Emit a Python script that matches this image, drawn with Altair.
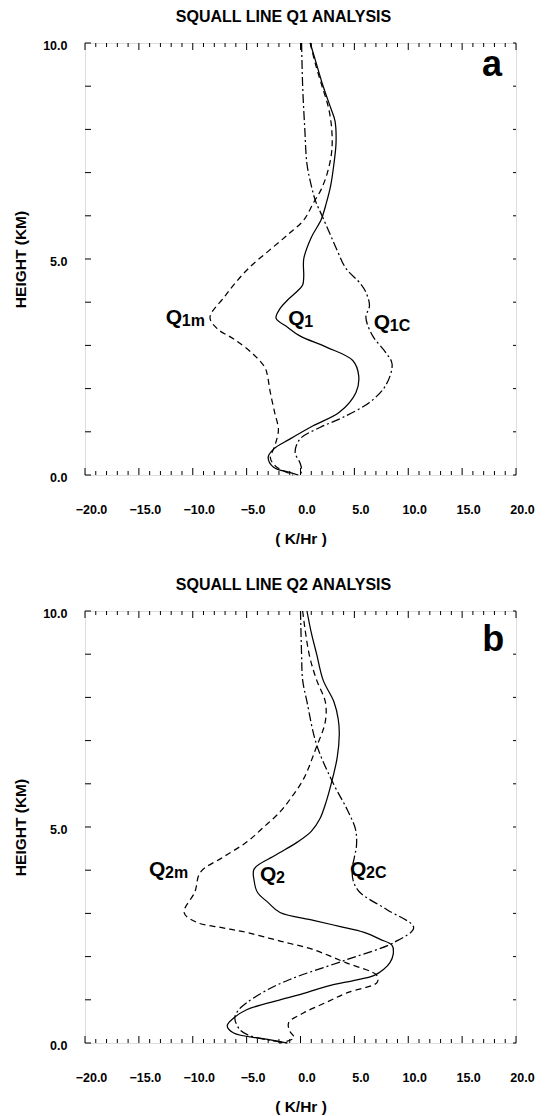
import altair as alt
import pandas as pd

# ---------------- Panel a : Q1 budget (height km, K/Hr) ----------------
q1_h = [10.0, 9.5, 9.0, 8.5, 8.2, 7.7, 7.2, 6.7, 6.3, 5.9, 5.5, 5.0, 4.6, 4.4, 4.23, 4.05, 3.85, 3.63,
        3.42, 3.22, 2.96, 2.65, 2.3, 1.91, 1.45, 1.14, 0.83, 0.6, 0.41, 0.18, 0.06, 0.0]
q1_v = [0.9, 1.5, 2.1, 2.8, 3.2, 3.3, 3.1, 2.8, 2.4, 1.9, 1.0, 0.3, 0.3, 0.2, -0.4, -1.2, -1.9, -2.27,
        -1.2, -0.06, 2.4, 4.85, 5.4, 5.15, 3.6, 1.17, -1.0, -2.5, -3.0, -2.5, -1.0, -0.2]

q1m_h = [10.0, 9.5, 9.0, 8.5, 8.0, 7.5, 7.0, 6.6, 6.3, 5.9, 5.58, 5.2, 4.79, 4.4, 4.11, 3.65, 3.38,
         3.15, 2.8, 2.49, 2.34, 1.91, 1.45, 1.06, 0.83, 0.6, 0.4, 0.2, 0.0]
q1m_v = [0.9, 1.4, 2.0, 2.6, 2.9, 2.9, 2.5, 1.9, 1.2, 0.3, -1.1, -2.9, -4.8, -6.2, -7.1, -8.4, -7.7,
         -6.2, -4.4, -3.3, -3.1, -2.8, -2.4, -2.05, -2.2, -2.5, -2.8, -2.3, -0.7]

q1c_h = [10.0, 9.0, 8.0, 7.2, 6.7, 6.34, 6.0, 5.6, 5.2, 4.79, 4.42, 4.23, 3.92, 3.65, 3.22, 2.84,
         2.57, 2.07, 1.68, 1.33, 1.1, 0.83, 0.52, 0.29, 0.14, 0.0]
q1c_v = [0.1, 0.2, 0.4, 0.6, 1.0, 1.4, 2.0, 2.7, 3.4, 4.2, 5.6, 6.07, 6.4, 6.07, 6.7, 7.9,
         8.5, 7.9, 6.4, 3.9, 1.8, -0.06, -0.5, -0.06, 0.1, 0.0]

# ---------------- Panel b : Q2 budget ----------------
q2_h = [10.0, 9.5, 9.0, 8.4, 7.9, 7.5, 7.14, 6.6, 6.05, 5.6, 5.19, 4.9, 4.65, 4.35, 4.03, 3.75, 3.49,
        3.25, 3.02, 2.84, 2.7, 2.56, 2.4, 2.26, 2.05, 1.86, 1.7, 1.56, 1.45, 1.33, 1.15, 1.0, 0.77,
        0.58, 0.4, 0.23, 0.1, 0.0]
q2_v = [0.6, 1.0, 1.5, 2.1, 3.1, 3.5, 3.6, 3.4, 2.9, 2.4, 1.8, 1.0, -0.3, -2.3, -4.3, -4.3, -4.0,
        -3.0, -1.9, 1.2, 3.6, 5.9, 7.4, 8.5, 8.6, 8.3, 7.7, 6.8, 5.0, 2.7, 0.3, -1.9, -5.0,
        -6.2, -6.8, -6.2, -3.5, -1.2]

q2m_h = [10.0, 9.0, 8.4, 7.9, 7.44, 6.8, 6.12, 5.7, 5.35, 5.0, 4.65, 4.3, 3.95, 3.5, 3.02, 2.79,
         2.67, 2.56, 2.36, 2.16, 1.86, 1.56, 1.40, 1.16, 0.93, 0.70, 0.47, 0.28, 0.12, 0.0]
q2m_v = [0.2, 0.8, 1.5, 2.3, 2.3, 1.4, 0.3, -0.8, -1.9, -3.4, -5.0, -7.2, -9.3, -9.8, -10.8, -9.6,
         -7.3, -5.0, -1.9, 1.2, 4.2, 7.1, 7.1, 4.3, 2.3, 0.3, -1.1, -1.0, -0.6, -2.0]

q2c_h = [10.0, 9.0, 8.4, 7.9, 6.9, 5.98, 5.42, 4.95, 4.58, 4.3, 4.03, 3.75, 3.49, 3.09, 2.67, 2.33,
         1.93, 1.47, 1.2, 0.93, 0.75, 0.58, 0.3, 0.16, 0.05, 0.0]
q2c_v = [0.0, 0.1, 0.2, 0.6, 1.5, 3.1, 4.3, 5.1, 5.2, 5.0, 4.8, 4.9, 5.5, 8.0, 10.5, 8.7,
         4.3, -1.0, -3.3, -5.0, -5.8, -6.1, -5.6, -4.6, -2.5, -1.2]

# ---------------- curve labels ----------------
a_lab_text = ["Q", "Q", "Q"]
a_lab_sub = ["1m", "1", "1C"]
a_lab_x = [-12.5, -1.13, 6.8]
a_lab_y = [3.63, 3.61, 3.53]

b_lab_text = ["Q", "Q", "Q"]
b_lab_sub = ["2m", "2", "2C"]
b_lab_x = [-14.05, -3.75, 4.6]
b_lab_y = [4.0, 3.88, 4.0]

titles = ["SQUALL LINE Q1 ANALYSIS", "SQUALL LINE Q2 ANALYSIS"]
letters = ["a", "b"]
letter_x = [18.7, 18.9]
letter_y = [9.24, 9.07]

x_tick_vals = list(range(-20, 21))
y_tick_vals = list(range(0, 11))
x_label_vals = [-20, -15, -10, -5, 0, 5, 10, 15, 20]
y_label_vals = [0, 5, 10]

FONT = "Liberation Sans"
W, H = 431, 432

xs = alt.Scale(domain=[-20, 20], nice=False, zero=False)
ys = alt.Scale(domain=[0, 10], nice=False, zero=False)

x_axis = alt.Axis(values=x_label_vals, format=".1f", labelFont=FONT, labelFontWeight="bold",
                  labelFontSize=12.5, labelColor="black", ticks=False, tickSize=0, domain=False,
                  grid=False, labelPadding=28, labelOffset=6, labelFlush=False,
                  title="( K/Hr )", titleFont=FONT,
                  titleFontSize=15.5, titleFontWeight="bold", titleColor="black", titlePadding=16)
y_axis = alt.Axis(values=y_label_vals, format=".1f", labelFont=FONT, labelFontWeight="bold",
                  labelFontSize=12.5, labelColor="black", ticks=False, tickSize=0, domain=False,
                  grid=False, labelPadding=18, labelOffset=2, labelFlush=False,
                  title="HEIGHT (KM)", titleFont=FONT,
                  titleFontSize=15.5, titleFontWeight="bold", titleColor="black", titlePadding=14)


def XE(field):
    return alt.X(field, scale=xs, axis=x_axis)


def YE(field):
    return alt.Y(field, scale=ys, axis=y_axis)


def sdf(h, v):
    return pd.DataFrame({"h": h, "v": v, "i": list(range(len(h)))})


def line_layer(h, v, dash=None):
    kw = dict(color="black", strokeWidth=1.25, interpolate="catmull-rom")
    if dash is not None:
        kw["strokeDash"] = dash
    return alt.Chart(sdf(h, v)).mark_line(**kw).encode(x=XE("v:Q"), y=YE("h:Q"), order="i:Q")


def tick_layers():
    xdf = pd.DataFrame({"v": x_tick_vals, "major": [t % 5 == 0 for t in x_tick_vals]})
    ydf = pd.DataFrame({"h": y_tick_vals})
    xmaj = xdf[xdf.major]
    xmin = xdf[~xdf.major]
    layers = []
    for d, ln in ((xmaj, 7), (xmin, 4)):
        layers.append(alt.Chart(d).mark_rule(color="black", strokeWidth=1).encode(
            x=XE("v:Q"), y=alt.value(H), y2=alt.value(H - ln)))
        layers.append(alt.Chart(d).mark_rule(color="black", strokeWidth=1).encode(
            x=XE("v:Q"), y=alt.value(0), y2=alt.value(ln)))
    layers.append(alt.Chart(ydf).mark_rule(color="black", strokeWidth=1).encode(
        y=YE("h:Q"), x=alt.value(0), x2=alt.value(6)))
    layers.append(alt.Chart(ydf).mark_rule(color="black", strokeWidth=1).encode(
        y=YE("h:Q"), x=alt.value(W), x2=alt.value(W - 3)))
    return layers


def label_layers(txt, sub, lx, ly, letter, lxx, lyy):
    d = pd.DataFrame({"v": lx, "h": ly, "t": txt, "s": sub})
    q = alt.Chart(d).mark_text(align="left", baseline="middle", font=FONT, fontSize=21,
                               fontWeight="bold", color="black").encode(
        x=XE("v:Q"), y=YE("h:Q"), text="t:N")
    s = alt.Chart(d).mark_text(align="left", baseline="middle", font=FONT, fontSize=16,
                               fontWeight="bold", color="black", dx=16, dy=3).encode(
        x=XE("v:Q"), y=YE("h:Q"), text="s:N")
    ld = pd.DataFrame({"v": [lxx], "h": [lyy], "t": [letter]})
    l = alt.Chart(ld).mark_text(align="right", baseline="alphabetic", font=FONT, fontSize=36,
                                fontWeight="bold", color="black").encode(
        x=XE("v:Q"), y=YE("h:Q"), text="t:N")
    return [q, s, l]


def panel(series, labs, title):
    (h1, v1), (hm, vm), (hc, vc) = series
    layers = [
        line_layer(h1, v1),
        line_layer(hm, vm, dash=[6, 4]),
        line_layer(hc, vc, dash=[9, 3, 2, 3]),
    ] + tick_layers() + label_layers(*labs)
    return alt.layer(*layers).properties(
        width=W, height=H,
        title=alt.TitleParams(title, font=FONT, fontSize=16, fontWeight="bold", color="black",
                              frame="group", anchor="middle", dx=-17, offset=14),
    )


pa = panel([(q1_h, q1_v), (q1m_h, q1m_v), (q1c_h, q1c_v)],
           (a_lab_text, a_lab_sub, a_lab_x, a_lab_y, letters[0], letter_x[0], letter_y[0]),
           titles[0])
pb = panel([(q2_h, q2_v), (q2m_h, q2m_v), (q2c_h, q2c_v)],
           (b_lab_text, b_lab_sub, b_lab_x, b_lab_y, letters[1], letter_x[1], letter_y[1]),
           titles[1])

chart = alt.vconcat(pa, pb, spacing=28).properties(
    padding={"left": 5, "top": 0, "right": 5, "bottom": 0}
).configure_view(stroke="black", strokeWidth=1.4).configure(background="white")

chart.save("out.html", embed_options={"renderer": "svg", "actions": False})
